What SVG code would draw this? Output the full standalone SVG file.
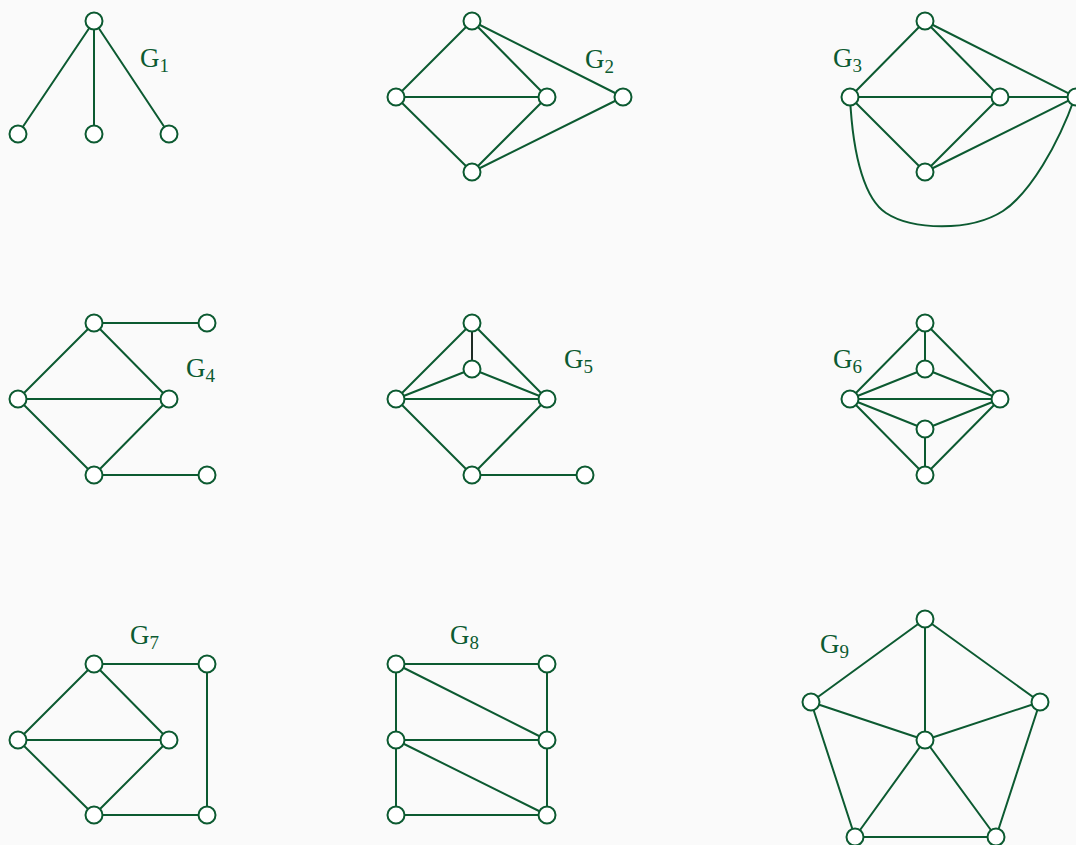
<svg xmlns="http://www.w3.org/2000/svg" width="1076" height="845" viewBox="0 0 1076 845">
<style>
.e{stroke:#0c5a31;stroke-width:2;fill:none}
.n{fill:#ffffff;stroke:#0c5a31;stroke-width:2}
.l{font-family:"Liberation Serif","DejaVu Serif",serif;font-size:27px;fill:#0c5a31}
.s{font-size:19px}
</style>
<rect width="1076" height="845" fill="#fafafa"/>
<defs><circle id="v" r="8.5" class="n"/></defs>
<g id="connectors">
<!-- G1 -->
<path class="e" d="M94,21L18,134M94,21L94,134M94,21L169,134"/>
<!-- G2 -->
<path class="e" d="M472,21L396,97M472,21L547,97M472,21L623,97M396,97L547,97M396,97L472,172M547,97L472,172M472,172L623,97"/>
<!-- G3 -->
<path class="e" d="M925,21L850,97M925,21L1000,97M925,21L1076,97M850,97L1076,97M850,97L925,172M1000,97L925,172M925,172L1076,97"/>
<path class="e" d="M850,97C853,160 866,200 886,213C912,230 970,232 1003,211C1030,193 1058,145 1075,97"/>
<!-- G4 -->
<path class="e" d="M94,323L207,323M94,323L18,399M94,323L169,399M18,399L169,399M18,399L94,475M169,399L94,475M94,475L207,475"/>
<!-- G5 -->
<path class="e" d="M472,323L396,399M472,323L547,399M472,369L396,399M472,369L547,399M396,399L547,399M396,399L472,475M547,399L472,475M472,475L585,475"/>
<path d="M472,323L472,369" stroke="#1e2b24" stroke-width="2"/>
<!-- G6 -->
<path class="e" d="M925,323L925,369M925,323L850,399M925,323L1000,399M925,369L850,399M925,369L1000,399M850,399L1000,399M850,399L925,429M1000,399L925,429M925,429L925,475M850,399L925,475M1000,399L925,475"/>
<!-- G7 -->
<path class="e" d="M94,664L207,664M207,664L207,815M207,815L94,815M94,664L18,740M94,664L169,740M18,740L169,740M18,740L94,815M169,740L94,815"/>
<!-- G8 -->
<path class="e" d="M396,664L547,664M396,664L396,815M547,664L547,815M396,740L547,740M396,815L547,815M396,664L547,740M396,740L547,815"/>
<!-- G9 -->
<path class="e" d="M925,619L811,702M925,619L1040,702M811,702L855,837M1040,702L996,837M855,837L996,837M925,619L925,740M811,702L925,740M1040,702L925,740M855,837L925,740M996,837L925,740"/>
</g>
<g id="G1"><use href="#v" x="94" y="21"/><use href="#v" x="18" y="134"/><use href="#v" x="94" y="134"/><use href="#v" x="169" y="134"/>
<text class="l" x="140" y="67">G<tspan class="s" dy="5">1</tspan></text></g>
<g id="G2"><use href="#v" x="472" y="21"/><use href="#v" x="396" y="97"/><use href="#v" x="547" y="97"/><use href="#v" x="623" y="97"/><use href="#v" x="472" y="172"/>
<text class="l" x="585" y="68">G<tspan class="s" dy="5">2</tspan></text></g>
<g id="G3"><use href="#v" x="925" y="21"/><use href="#v" x="850" y="97"/><use href="#v" x="1000" y="97"/><use href="#v" x="1076" y="97"/><use href="#v" x="925" y="172"/>
<text class="l" x="833" y="67">G<tspan class="s" dy="5">3</tspan></text></g>
<g id="G4"><use href="#v" x="94" y="323"/><use href="#v" x="207" y="323"/><use href="#v" x="18" y="399"/><use href="#v" x="169" y="399"/><use href="#v" x="94" y="475"/><use href="#v" x="207" y="475"/>
<text class="l" x="186" y="377">G<tspan class="s" dy="5">4</tspan></text></g>
<g id="G5"><use href="#v" x="472" y="323"/><use href="#v" x="472" y="369"/><use href="#v" x="396" y="399"/><use href="#v" x="547" y="399"/><use href="#v" x="472" y="475"/><use href="#v" x="585" y="475"/>
<text class="l" x="564" y="368">G<tspan class="s" dy="5">5</tspan></text></g>
<g id="G6"><use href="#v" x="925" y="323"/><use href="#v" x="925" y="369"/><use href="#v" x="850" y="399"/><use href="#v" x="1000" y="399"/><use href="#v" x="925" y="429"/><use href="#v" x="925" y="475"/>
<text class="l" x="833" y="368">G<tspan class="s" dy="5">6</tspan></text></g>
<g id="G7"><use href="#v" x="94" y="664"/><use href="#v" x="207" y="664"/><use href="#v" x="18" y="740"/><use href="#v" x="169" y="740"/><use href="#v" x="94" y="815"/><use href="#v" x="207" y="815"/>
<text class="l" x="130" y="644">G<tspan class="s" dy="5">7</tspan></text></g>
<g id="G8"><use href="#v" x="396" y="664"/><use href="#v" x="547" y="664"/><use href="#v" x="396" y="740"/><use href="#v" x="547" y="740"/><use href="#v" x="396" y="815"/><use href="#v" x="547" y="815"/>
<text class="l" x="450" y="644">G<tspan class="s" dy="5">8</tspan></text></g>
<g id="G9"><use href="#v" x="925" y="619"/><use href="#v" x="811" y="702"/><use href="#v" x="1040" y="702"/><use href="#v" x="855" y="837"/><use href="#v" x="996" y="837"/><use href="#v" x="925" y="740"/>
<text class="l" x="820" y="653">G<tspan class="s" dy="5">9</tspan></text></g>
</svg>
